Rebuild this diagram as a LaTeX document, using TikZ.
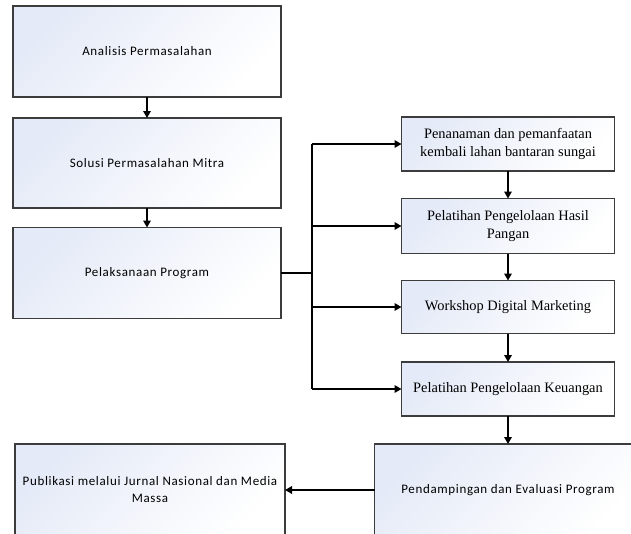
\documentclass[tikz,border=0pt]{standalone}
\usepackage{fontspec}
\setmainfont{Liberation Serif}
\newfontfamily\boxsans{Carlito}[LetterSpace=5]
\usetikzlibrary{arrows.meta}
\definecolor{boxtop}{RGB}{228,234,247}
\definecolor{boxline}{RGB}{60,60,60}
\tikzset{
  base/.style={draw=boxline, line width=1.1pt, top color=boxtop, bottom color=white,
    shading angle=45, inner sep=0pt, outer sep=0pt, align=center},
  leftbox/.style={base, minimum width=268pt, font=\boxsans\fontsize{13}{17}\selectfont},
  rightbox/.style={base, minimum width=213pt, minimum height=54pt, font=\fontsize{14.4}{18}\selectfont},
  conn/.style={draw=black, line width=1.8pt},
  arr/.style={conn, -{Triangle[length=7pt,width=7.5pt]}}
}
\begin{document}
\begin{tikzpicture}[x=1pt,y=-1pt]
\useasboundingbox (0,0) rectangle (631,533);
\clip (0,0) rectangle (631,533);
\fill[white] (0,0) rectangle (631,533);
% left column
\node[leftbox, minimum height=91pt] (b1) at (147,51.5) {Analisis Permasalahan};
\node[leftbox, minimum height=90pt] (b2) at (147,163) {Solusi Permasalahan Mitra};
\node[leftbox, minimum height=91pt] (b3) at (147,273) {Pelaksanaan Program};
% right column
\node[rightbox] (a) at (508,144) {Penanaman dan pemanfaatan\\kembali lahan bantaran sungai};
\node[rightbox, minimum height=55pt] (b) at (508,226) {Pelatihan Pengelolaan Hasil\\Pangan};
\node[rightbox, minimum height=53pt] (c) at (508,307) {Workshop Digital Marketing};
\node[rightbox] (d) at (508,389) {Pelatihan Pengelolaan Keuangan};
% bottom row
\node[leftbox, minimum width=267pt, minimum height=92pt] (e) at (508,490) {Pendampingan dan Evaluasi Program};
\node[leftbox, minimum width=270pt, minimum height=92pt] (p) at (150,490) {Publikasi melalui Jurnal Nasional dan Media\\Massa};
\coordinate (j) at (312,273);
\coordinate (jt) at (a.west -| j);
\coordinate (jb) at (d.west -| j);
\coordinate (j2) at (b.west -| j);
\coordinate (j3) at (c.west -| j);
% connectors
\draw[arr] (b1.south) -- (b2.north);
\draw[arr] (b2.south) -- (b3.north);
\draw[conn] (b3.east) -- (j);
\draw[conn] (jt) -- (jb);
\draw[arr] (jt) -- (a.west);
\draw[arr] (j2) -- (b.west);
\draw[arr] (j3) -- (c.west);
\draw[arr] (jb) -- (d.west);
\draw[arr] (a.south) -- (b.north);
\draw[arr] (b.south) -- (c.north);
\draw[arr] (c.south) -- (d.north);
\draw[arr] (d.south) -- (e.north);
\draw[arr] (e.west) -- (p.east);
\end{tikzpicture}
\end{document}
